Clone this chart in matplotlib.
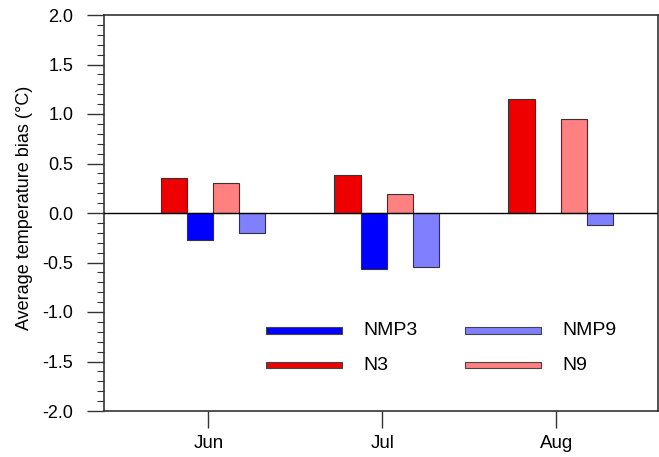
import matplotlib
matplotlib.use("Agg")
import matplotlib.pyplot as plt
import numpy as np
from matplotlib.patches import Rectangle
from matplotlib.ticker import MultipleLocator

plt.rcParams['font.family'] = ['Liberation Sans', 'DejaVu Sans']

months = ["Jun", "Jul", "Aug"]
series = ["N3", "NMP3", "N9", "NMP9"]
N3 = [0.35, 0.38, 1.15]
NMP3 = [-0.27, -0.57, 0.0]
N9 = [0.30, 0.19, 0.95]
NMP9 = [-0.20, -0.55, -0.12]
colors = {"N3": "#EE0000", "NMP3": "#0000FF", "N9": "#FF8080", "NMP9": "#8080FF"}
values = {"N3": N3, "NMP3": NMP3, "N9": N9, "NMP9": NMP9}

fig = plt.figure(figsize=(6.59, 4.57), dpi=100)
ax = fig.add_axes([104/659, 1 - 411/457, 554/659, 396/457])

x = np.arange(1, len(months) + 1)
offsets = [-0.2, -0.05, 0.1, 0.25]
width = 0.15
for name, off in zip(series, offsets):
    vals = values[name]
    for xi, v in zip(x, vals):
        if v != 0:
            ax.bar(xi + off, v, width, color=colors[name], edgecolor="#333333", linewidth=0.8, zorder=2)

ax.axhline(0, color="black", linewidth=1.0, zorder=3)
ax.set_xlim(0.4, 3.585)
ax.set_ylim(-2.0, 2.0)
ax.set_xticks(x)
ax.set_xticklabels(months, fontsize=13.5)
ax.yaxis.set_major_locator(MultipleLocator(0.5))
ax.yaxis.set_minor_locator(MultipleLocator(0.1))
ax.set_yticklabels([f"{v:.1f}" for v in ax.get_yticks()])
ax.tick_params(axis='y', which='major', direction='out', length=12, width=1.0, labelsize=13, pad=10, colors="#333333", labelcolor="black")
ax.tick_params(axis='y', which='minor', direction='out', length=5, width=0.8, colors="#333333")
ax.tick_params(axis='x', which='major', direction='out', length=12, width=1.0, labelsize=13.5, pad=5, colors="#333333", labelcolor="black")
for sp in ax.spines.values():
    sp.set_linewidth(1.2)
    sp.set_color("#333333")
ax.set_ylabel("Average temperature bias (°C)", fontsize=13)
ax.yaxis.set_label_coords(-0.128, 0.513)

# legend
leg = [("NMP3", 0.292, 0.203), ("N3", 0.292, 0.116), ("NMP9", 0.652, 0.203), ("N9", 0.652, 0.116)]
for name, lx, ly in leg:
    ax.add_patch(Rectangle((lx, ly - 0.008), 0.137, 0.016, transform=ax.transAxes,
                           facecolor=colors[name], edgecolor="#444444", linewidth=0.8, zorder=4))
    ax.text(lx + 0.176, ly, name, transform=ax.transAxes, fontsize=14, va="center", ha="left")

fig.savefig("out.png", dpi=100)
